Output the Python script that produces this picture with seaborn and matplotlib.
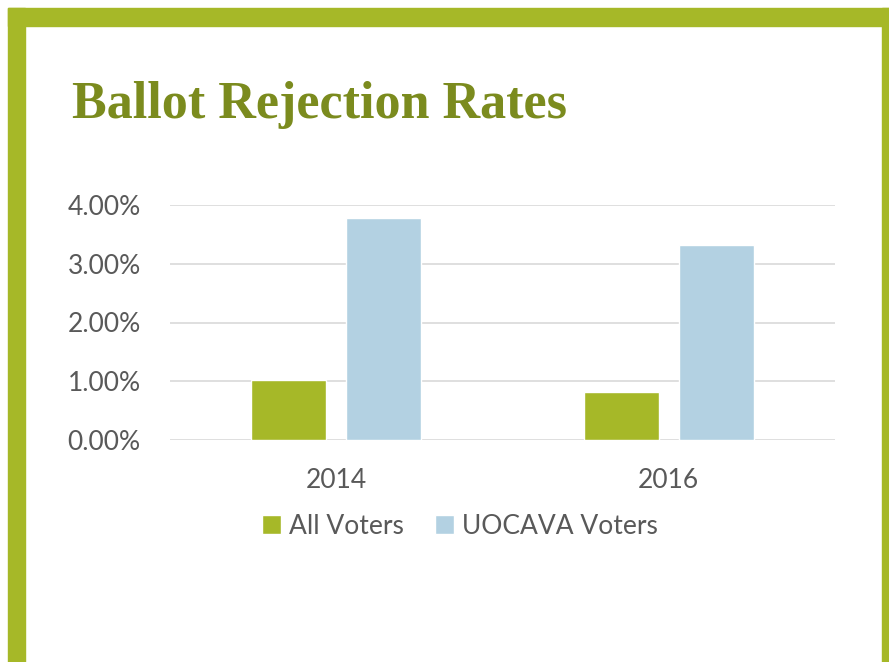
import pandas as pd
import matplotlib
matplotlib.use("Agg")
import matplotlib.pyplot as plt
from matplotlib.patches import Rectangle
from matplotlib.ticker import FuncFormatter
import seaborn as sns

# ------------------------------------------ DATA ------------------------------------------------#
years = ["2014", "2016"]
all_voters = [1.02, 0.82]       # percent
uocava_voters = [3.78, 3.32]    # percent
series_names = ["All Voters", "UOCAVA Voters"]

GREEN = "#A6B828"
BLUE = "#B3D1E2"
TITLE_GREEN = "#7B8B1E"
TEXT_GRAY = "#595959"

df = pd.DataFrame({
    "year": years * 2,
    "rate": all_voters + uocava_voters,
    "series": [series_names[0]] * len(years) + [series_names[1]] * len(years),
})

# ------------------------------------------ PLOT ------------------------------------------------#
sns.set_style("white")
plt.rcParams["font.family"] = ["Lato", "DejaVu Sans"]

fig = plt.figure(figsize=(8.89, 6.62), dpi=100)
W, H = 889, 662

# green slide frame
fig.patches.append(Rectangle((8 / W, 0), 17 / W, 1 - 8 / H, transform=fig.transFigure,
                             color=GREEN, zorder=0))
fig.patches.append(Rectangle((8 / W, 1 - 26 / H), 1 - 8 / W, 18 / H, transform=fig.transFigure,
                             color=GREEN, zorder=0))
fig.patches.append(Rectangle((882 / W, 0), 7 / W, 1 - 8 / H, transform=fig.transFigure,
                             color=GREEN, zorder=0))

fig.text(72 / W, 1 - 105 / H, "Ballot Rejection Rates", fontsize=37.5, fontweight="bold",
         family="Liberation Serif", color=TITLE_GREEN, va="center", ha="left")

ax = fig.add_axes([170 / W, 1 - 440 / H, 665 / W, 235 / H])
sns.barplot(data=df, x="year", y="rate", hue="series", palette=[GREEN, BLUE],
            width=0.571, gap=0.21, saturation=1, ax=ax, legend=True)

ax.set_ylim(0, 4)
ax.set_xlim(-0.5, 1.5)
ax.set_yticks([0, 1, 2, 3, 4])
ax.yaxis.set_major_formatter(FuncFormatter(lambda v, p: f"{v:.2f}%"))
ax.grid(axis="y", color="#D9D9D9", linewidth=1.2)
ax.set_axisbelow(True)
for s in ax.spines.values():
    s.set_visible(False)
ax.tick_params(axis="both", length=0, labelsize=19, labelcolor=TEXT_GRAY)
ax.tick_params(axis="y", pad=21)
ax.tick_params(axis="x", pad=20)
ax.set_xlabel("")
ax.set_ylabel("")

ax.legend(loc="center", bbox_to_anchor=(460 / W, 1 - 526 / H), bbox_transform=fig.transFigure,
          ncol=2, frameon=False, fontsize=19, labelcolor=TEXT_GRAY, handlelength=0.7,
          handleheight=0.7, handletextpad=0.3, columnspacing=1.2)

plt.savefig("out.png", dpi=100)
plt.close()
